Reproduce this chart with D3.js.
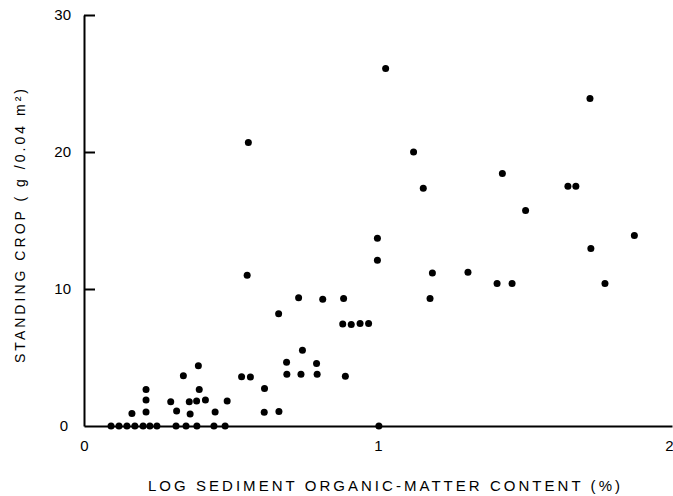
<!DOCTYPE html>
<html>
<head>
<meta charset="utf-8">
<script src="https://cdn.jsdelivr.net/npm/d3@7"></script>
<style>
  html, body { margin: 0; padding: 0; background: #fff; }
  svg { display: block; }
  text { font-family: "Liberation Sans", "DejaVu Sans", sans-serif; fill: #000; }
</style>
</head>
<body>
<svg id="chart" width="673" height="496"></svg>
<script>
// Data: log sediment organic-matter content (x) vs standing crop g/0.04 m² (y)
const logOrganic = [
  0.092, 0.119, 0.146, 0.173, 0.201, 0.224, 0.248, 0.313, 0.347, 0.384, 0.442, 0.480, 1.003,
  0.163, 0.211, 0.211, 0.211, 0.295, 0.315, 0.338, 0.358, 0.361, 0.383, 0.389, 0.392,
  0.413, 0.446, 0.487, 0.536, 0.566, 0.559, 0.555, 0.614, 0.613, 0.663, 0.662,
  0.689, 0.690, 0.730, 0.738, 0.743, 0.791, 0.793, 0.812, 0.883,
  0.880, 0.909, 0.939, 0.968, 0.889, 0.998, 0.998, 1.026, 1.121, 1.154, 1.177, 1.185,
  1.306, 1.405, 1.423, 1.456, 1.502, 1.646, 1.673, 1.721, 1.724, 1.772, 1.872
];
const standingCrop = [
  0, 0, 0, 0, 0, 0, 0, 0, 0, 0, 0, 0, 0,
  0.92, 2.67, 1.89, 1.02, 1.77, 1.09, 3.66, 1.77, 0.87, 1.82, 4.39, 2.67,
  1.89, 1.02, 1.82, 3.59, 3.57, 20.7, 11.0, 2.74, 1.0, 1.05, 8.2,
  4.66, 3.77, 9.37, 3.77, 5.53, 4.57, 3.77, 9.25, 9.3,
  7.45, 7.4, 7.48, 7.48, 3.64, 13.7, 12.1, 26.1, 20.0, 17.36, 9.3, 11.17,
  11.22, 10.4, 18.43, 10.4, 15.73, 17.5, 17.5, 23.9, 12.96, 10.4, 13.9
];
const yTicks = [0, 10, 20, 30];
const xTicks = [0, 1, 2];
const xTitle = "LOG SEDIMENT ORGANIC-MATTER CONTENT (%)";
const yTitle = "STANDING CROP ( g /0.04 m²)";

const svg = d3.select("#chart");
const x = d3.scaleLinear().domain([0, 2]).range([84, 672]);
const y = d3.scaleLinear().domain([0, 30]).range([426, 15]);

// Y axis (ticks pointing inward)
const yAxis = svg.append("g")
  .attr("transform", `translate(${x(0)},0)`)
  .call(d3.axisLeft(y).tickValues(yTicks).tickFormat(d3.format("d"))
        .tickSizeInner(-11).tickSizeOuter(0).tickPadding(13));
yAxis.select(".domain").attr("stroke", "#000").attr("stroke-width", 2);
yAxis.selectAll(".tick line").attr("stroke", "#000").attr("stroke-width", 2);
yAxis.selectAll(".tick text").attr("font-size", 15)
  .attr("font-family", "Liberation Sans, DejaVu Sans, sans-serif").attr("fill", "#000");
yAxis.selectAll(".tick").filter(d => d === 0).select("line").remove();
yAxis.selectAll(".tick").filter(d => d === 0).select("text").attr("x", -16);

// X axis
const xAxis = svg.append("g")
  .attr("transform", `translate(0,${y(0)})`)
  .call(d3.axisBottom(x).tickValues(xTicks).tickFormat(d3.format("d"))
        .tickSizeInner(0).tickSizeOuter(0).tickPadding(14));
xAxis.select(".domain").attr("stroke", "#000").attr("stroke-width", 1.8);
xAxis.selectAll(".tick text").attr("font-size", 15)
  .attr("font-family", "Liberation Sans, DejaVu Sans, sans-serif").attr("fill", "#000");
xAxis.selectAll(".tick").filter(d => d === 2).select("text").attr("text-anchor", "end").attr("x", 1);

// Points
const pts = logOrganic.map((v, i) => ({ x: v, y: standingCrop[i] }));
svg.append("g").selectAll("circle").data(pts).join("circle")
  .attr("cx", d => x(d.x))
  .attr("cy", d => y(d.y))
  .attr("r", 3.5)
  .attr("fill", "#000");

// Axis titles
svg.append("text")
  .attr("x", 384).attr("y", 491)
  .attr("text-anchor", "middle")
  .attr("font-size", 15)
  .attr("textLength", 472).attr("lengthAdjust", "spacing")
  .text(xTitle);

svg.append("text")
  .attr("transform", "translate(25,226) rotate(-90)")
  .attr("text-anchor", "middle")
  .attr("font-size", 14)
  .attr("textLength", 274).attr("lengthAdjust", "spacing")
  .text(yTitle);
</script>
</body>
</html>
